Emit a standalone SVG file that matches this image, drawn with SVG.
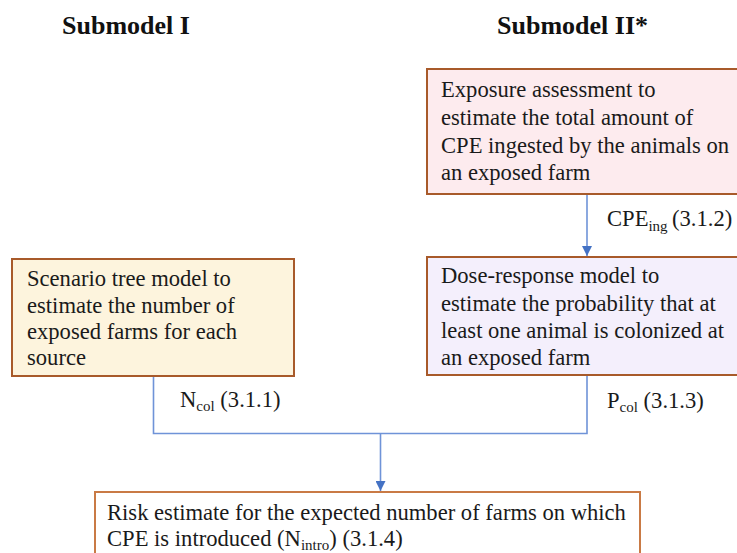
<svg xmlns="http://www.w3.org/2000/svg" width="737" height="553" viewBox="0 0 737 553">
<style>
.t{font-family:"Liberation Serif","Times New Roman",serif;font-size:22.6px;fill:#1a1a1a}
.h{font-family:"Liberation Serif","Times New Roman",serif;font-size:26px;font-weight:bold;fill:#111}
.s{font-size:15px}
.box{stroke:#a85a2a;stroke-width:2}
.ln{fill:none;stroke:#6f93d8;stroke-width:1.6}
</style>
<defs>
<marker id="ah" viewBox="0 0 10 10" refX="10" refY="5" markerWidth="10" markerHeight="10" markerUnits="userSpaceOnUse" orient="auto">
<path d="M0,0 L10,5 L0,10 Z" fill="#4472c4"/>
</marker>
</defs>
<rect width="737" height="553" fill="#fff"/>
<g id="headings">
<text class="h" x="62" y="34">Submodel I</text>
<text class="h" x="497" y="34">Submodel II*</text>
</g>
<g id="connectors">
<line class="ln" x1="587" y1="195" x2="587" y2="256" marker-end="url(#ah)"/>
<polyline class="ln" points="153.5,377 153.5,433.5 587,433.5 587,376"/>
<line class="ln" x1="380.5" y1="433.5" x2="380.5" y2="491" marker-end="url(#ah)"/>
</g>
<g id="exposure">
<rect class="box" x="427" y="69" width="320" height="125" fill="#fdebee"/>
<text class="t" x="441" y="97">Exposure assessment to</text>
<text class="t" x="441" y="125">estimate the total amount of</text>
<text class="t" x="441" y="152.5">CPE ingested by the animals on</text>
<text class="t" x="441" y="180">an exposed farm</text>
</g>
<g id="doseresponse">
<rect class="box" x="427" y="257" width="320" height="118" fill="#f4effc"/>
<text class="t" x="441" y="283">Dose-response model to</text>
<text class="t" x="441" y="310.5">estimate the probability that at</text>
<text class="t" x="441" y="337.5">least one animal is colonized at</text>
<text class="t" x="441" y="365">an exposed farm</text>
</g>
<g id="scenario">
<rect class="box" x="12" y="259" width="282" height="117" fill="#fdf4dd"/>
<text class="t" x="27" y="286">Scenario tree model to</text>
<text class="t" x="27" y="312.5">estimate the number of</text>
<text class="t" x="27" y="339">exposed farms for each</text>
<text class="t" x="27" y="365">source</text>
</g>
<g id="risk">
<rect x="95" y="492" width="545" height="80" fill="#fff" stroke="#c97a45" stroke-width="2"/>
<text class="t" x="107" y="520">Risk estimate for the expected number of farms on which</text>
<text class="t" x="107" y="546">CPE is introduced (N<tspan class="s" dy="4">intro</tspan><tspan dy="-4">) (3.1.4)</tspan></text>
</g>
<g id="labels">
<text class="t" x="607" y="226">CPE<tspan class="s" dy="5">ing</tspan><tspan dy="-5" x="672">(3.1.2)</tspan></text>
<text class="t" x="607" y="408">P<tspan class="s" dy="4">col</tspan><tspan dy="-4"> (3.1.3)</tspan></text>
<text class="t" x="180" y="407">N<tspan class="s" dy="4">col</tspan><tspan dy="-4"> (3.1.1)</tspan></text>
</g>
</svg>
